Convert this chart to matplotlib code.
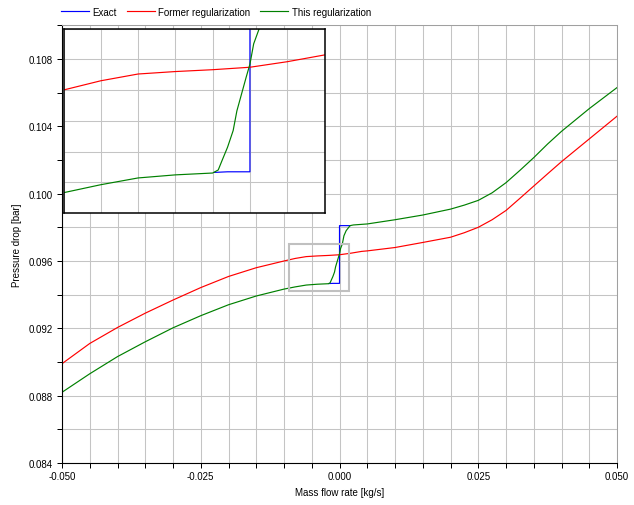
import matplotlib
matplotlib.use('Agg')
import matplotlib.pyplot as plt
from matplotlib.ticker import MultipleLocator, FormatStrFormatter, NullFormatter
from matplotlib.patches import Rectangle

plt.rcParams['font.family'] = ['Liberation Sans', 'DejaVu Sans']
plt.rcParams['font.size'] = 7
plt.rcParams['axes.unicode_minus'] = False

# ---- data ----
former_x = [-0.05, -0.045, -0.04, -0.035, -0.03, -0.025, -0.02, -0.015, -0.01,
            -0.008, -0.006, -0.004, -0.002, 0.0, 0.002, 0.004, 0.005, 0.01,
            0.015, 0.02, 0.0225, 0.025, 0.0275, 0.03, 0.0325, 0.035, 0.0375,
            0.04, 0.045, 0.05]
former_y = [0.0899, 0.0911, 0.09205, 0.0929, 0.09368, 0.09442, 0.09508, 0.0956, 0.0960,
            0.09615, 0.09626, 0.0963, 0.09633, 0.09637, 0.09646, 0.09657, 0.0966, 0.0968,
            0.0971, 0.09741, 0.09768, 0.0980, 0.09845, 0.0990, 0.09972, 0.10045, 0.10118,
            0.1019, 0.10325, 0.1046]

this_x = [-0.05, -0.045, -0.04, -0.035, -0.03, -0.025, -0.02, -0.015, -0.01,
          -0.008, -0.006, -0.004, -0.002, -0.0017, -0.0015, -0.0012, -0.0009,
          -0.0007, -0.0004, -0.0002, 0.0, 0.0002, 0.0005, 0.0008, 0.0012, 0.0019,
          0.0025, 0.005, 0.01, 0.015, 0.02, 0.0225, 0.025, 0.0275, 0.03, 0.0325,
          0.035, 0.0375, 0.04, 0.045, 0.05]
this_y = [0.0882, 0.0893, 0.09032, 0.0912, 0.09203, 0.09275, 0.0934, 0.09392, 0.09433,
          0.09446, 0.09457, 0.09462, 0.09465, 0.0947, 0.09485, 0.09507, 0.09534,
          0.09566, 0.09599, 0.09621, 0.09642, 0.09675, 0.0970, 0.0975, 0.0978, 0.0981,
          0.09814, 0.0982, 0.09845, 0.09873, 0.09908, 0.09932, 0.0996, 0.10005, 0.10065,
          0.10138, 0.10214, 0.10295, 0.1037, 0.10505, 0.1063]

# Exact solution (outside this window it coincides with "This regularization"
# and is hidden beneath it in the reference)
exact_x = [-0.0019, -0.0012, 0.0, 0.0, 0.0019]
exact_y = [0.09466, 0.09467, 0.09467, 0.0981, 0.0981]

W, H = 634, 506
fig = plt.figure(figsize=(W / 100, H / 100), dpi=100)
ax = fig.add_axes([62 / W, 1 - 464 / H, 555 / W, 437.7 / H])

lw = 0.85
l1, = ax.plot(exact_x, exact_y, color='#0000ff', lw=lw, label='Exact')
l2, = ax.plot(former_x, former_y, color='#ff0000', lw=lw, label='Former regularization')
l3, = ax.plot(this_x, this_y, color='#008000', lw=lw, label='This regularization')

ax.set_xlim(-0.05, 0.05)
ax.set_ylim(0.084, 0.110)
ax.xaxis.set_major_locator(MultipleLocator(0.025))
ax.xaxis.set_minor_locator(MultipleLocator(0.005))
ax.yaxis.set_major_locator(MultipleLocator(0.004))
ax.yaxis.set_minor_locator(MultipleLocator(0.002))
ax.xaxis.set_major_formatter(FormatStrFormatter('%.3f'))
ax.yaxis.set_major_formatter(FormatStrFormatter('%.3f'))
ax.tick_params(which='both', direction='out', length=3.6, width=0.72, color='black')
ax.tick_params(axis='x', which='major', pad=2)
ax.tick_params(axis='y', which='major', pad=3)
ax.grid(which='both', color='#c4c4c4', lw=0.75)
ax.set_axisbelow(True)
for s in ['top', 'right']:
    ax.spines[s].set_color('#a0a0a0')
    ax.spines[s].set_linewidth(0.75)
for s in ['left', 'bottom']:
    ax.spines[s].set_color('black')
    ax.spines[s].set_linewidth(0.8)

ax.set_xlabel('Mass flow rate [kg/s]')
ax.set_ylabel('Pressure drop [bar]')
ax.xaxis.set_label_coords(0.5, (464 - 488) / 437.7)
ax.yaxis.set_label_coords((22 - 62) / 555, 0.5)

# zoom rectangle
ax.add_patch(Rectangle((-0.00904, 0.0942), 0.01075, 0.0028, fill=False,
                       ec='#c0c0c0', lw=1.5, zorder=5))

# legend
fig.legend(handles=[l1, l2, l3], loc='center left',
           bbox_to_anchor=(61 / W, 1 - 12.5 / H), ncol=3, frameon=False,
           borderpad=0, borderaxespad=0, handlelength=2.9, handletextpad=0.35,
           columnspacing=1.0, fontsize=7)

# inset
axin = fig.add_axes([63.5 / W, 1 - 214 / H, 261 / W, 184.5 / H])
axin.plot(exact_x, exact_y, color='#0000ff', lw=lw)
axin.plot(former_x, former_y, color='#ff0000', lw=lw)
axin.plot(this_x, this_y, color='#008000', lw=lw)
axin.set_xlim(-0.010, 0.004)
axin.set_ylim(0.094, 0.097)
axin.xaxis.set_major_locator(MultipleLocator(0.002))
axin.yaxis.set_major_locator(MultipleLocator(0.0005))
axin.xaxis.set_major_formatter(NullFormatter())
axin.yaxis.set_major_formatter(NullFormatter())
axin.tick_params(length=0)
axin.grid(color='#c4c4c4', lw=0.75)
axin.set_axisbelow(True)
for s in axin.spines.values():
    s.set_color('black')
    s.set_linewidth(1.1)

fig.savefig('out.png', dpi=100)
